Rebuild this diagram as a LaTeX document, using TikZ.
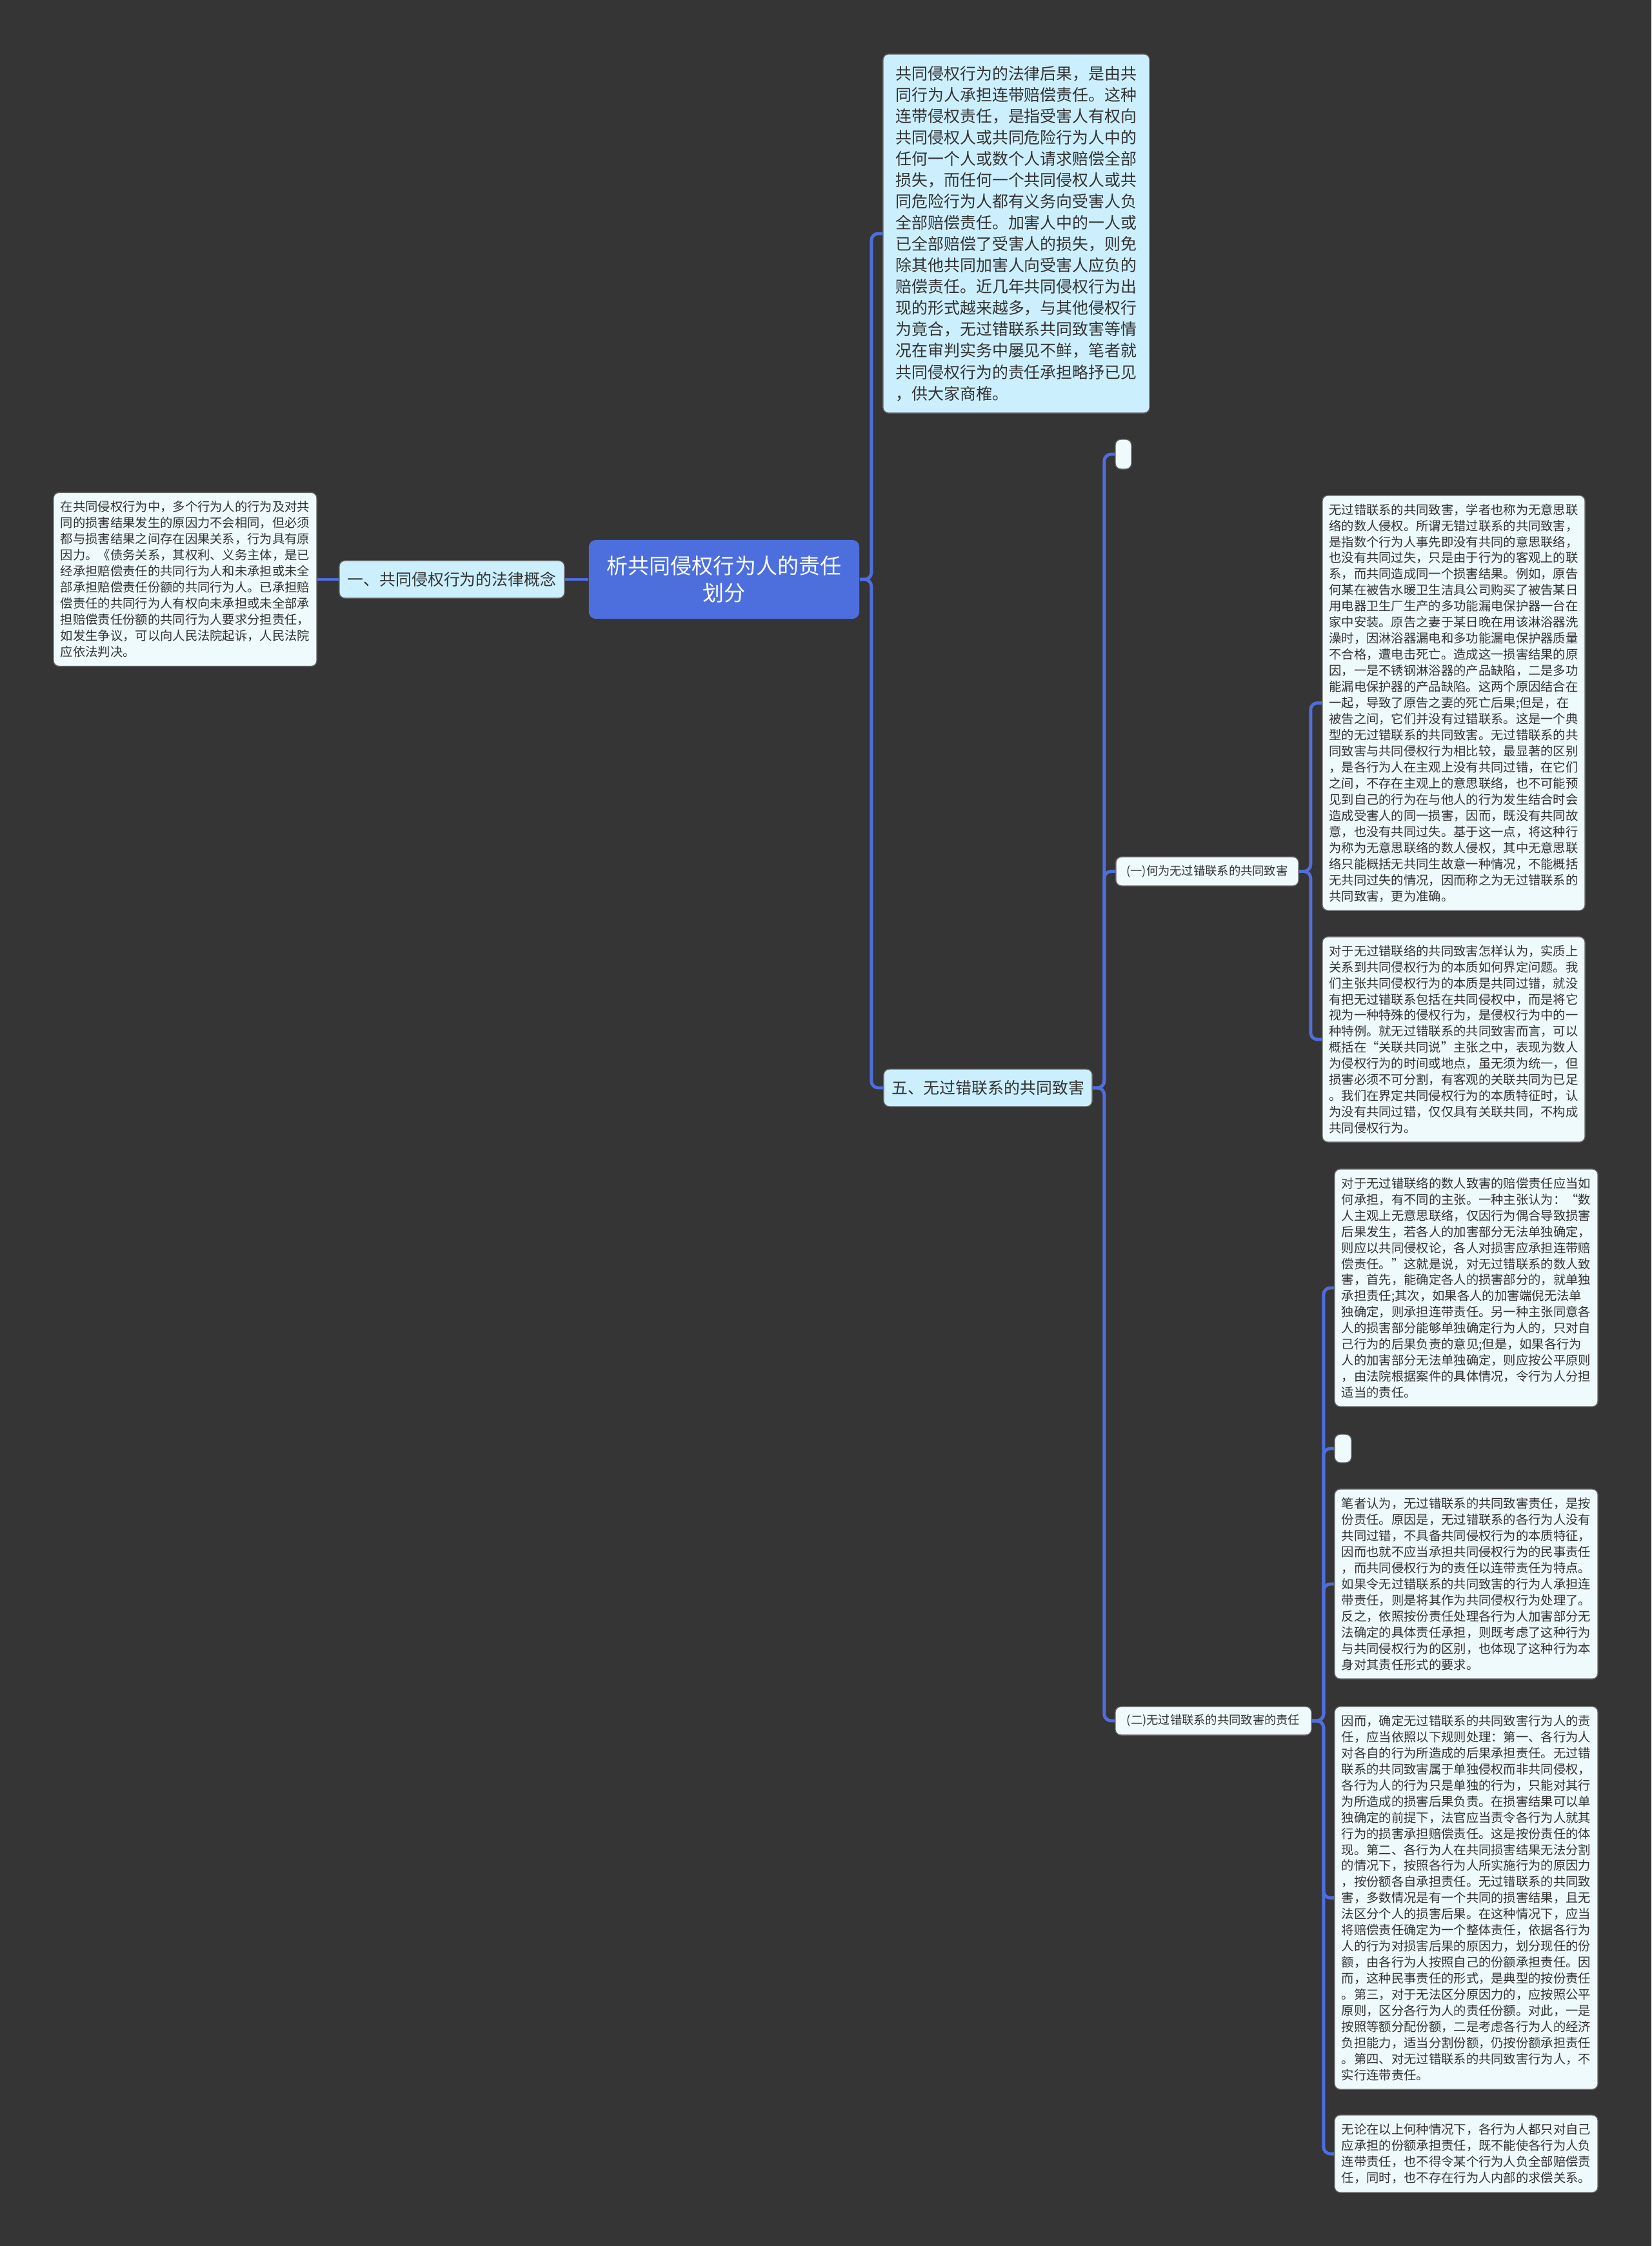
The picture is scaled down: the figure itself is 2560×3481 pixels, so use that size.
\documentclass[tikz,border=0pt]{standalone}
\usepackage{fontspec}
\newfontfamily\cjk{Noto Sans CJK SC}

\definecolor{bg}{HTML}{363535}
\definecolor{rootblue}{HTML}{4D6FDE}
\definecolor{topicfill}{HTML}{CCEFFD}
\definecolor{leaffill}{HTML}{EFFAFD}
\definecolor{linkblue}{HTML}{506DDC}
\definecolor{ink}{HTML}{333333}

\tikzset{
  box/.style={draw=black!60, line width=0.4pt, rounded corners=2.5pt, inner sep=0pt, align=left, text=ink},
  rootbox/.style={box, draw=none, fill=rootblue, text=white, align=center, rounded corners=3pt,
    font=\cjk\fontsize{9.4pt}{12pt}\selectfont},
  topicbox/.style={box, fill=topicfill, font=\cjk\fontsize{7.08pt}{9.4pt}\selectfont},
  labelbox/.style={box, fill=leaffill, font=\cjk\fontsize{5.2pt}{7pt}\selectfont},
  leafbox/.style={box, fill=leaffill, font=\cjk\fontsize{5.49pt}{7.1pt}\selectfont},
  link/.style={draw=linkblue, line width=1.4pt, rounded corners=3pt},
}

\begin{document}
\begin{tikzpicture}[x=0.01cm, y=-0.01cm]
\fill[bg] (0,0) rectangle (2560,3481);
\useasboundingbox (0,0) rectangle (2560,3481);

% centre
\node[rootbox, minimum width=4.19cm, minimum height=1.22cm] (root) at (1122.5,898) {析共同侵权行为人的责任\\划分};

% left branch
\node[topicbox, minimum width=3.49cm, minimum height=0.58cm] (concept) at (700.5,898) {一、共同侵权行为的法律概念};
\node[leafbox, minimum width=4.08cm, minimum height=2.69cm] (conceptnote) at (287,898) {在共同侵权行为中，多个行为人的行为及对共\\
同的损害结果发生的原因力不会相同，但必须\\
都与损害结果之间存在因果关系，行为具有原\\
因力。《债务关系，其权利、义务主体，是已\\
经承担赔偿责任的共同行为人和未承担或未全\\
部承担赔偿责任份额的共同行为人。已承担赔\\
偿责任的共同行为人有权向未承担或未全部承\\
担赔偿责任份额的共同行为人要求分担责任，\\
如发生争议，可以向人民法院起诉，人民法院\\
应依法判决。};

% right branch
\node[topicbox, minimum width=4.13cm, minimum height=5.56cm] (effect) at (1575.5,362) {共同侵权行为的法律后果，是由共\\
同行为人承担连带赔偿责任。这种\\
连带侵权责任，是指受害人有权向\\
共同侵权人或共同危险行为人中的\\
任何一个人或数个人请求赔偿全部\\
损失，而任何一个共同侵权人或共\\
同危险行为人都有义务向受害人负\\
全部赔偿责任。加害人中的一人或\\
已全部赔偿了受害人的损失，则免\\
除其他共同加害人向受害人应负的\\
赔偿责任。近几年共同侵权行为出\\
现的形式越来越多，与其他侵权行\\
为竟合，无过错联系共同致害等情\\
况在审判实务中屡见不鲜，笔者就\\
共同侵权行为的责任承担略抒已见\\
，供大家商榷。};
\node[topicbox, minimum width=3.23cm, minimum height=0.58cm] (nofault) at (1531.5,1686) {五、无过错联系的共同致害};

\node[labelbox, minimum width=0.25cm, minimum height=0.46cm] (blankA) at (1741.5,704) {};
\node[labelbox, minimum width=2.83cm, minimum height=0.45cm] (whatis) at (1871.5,1350.5) {(一)何为无过错联系的共同致害};
\node[labelbox, minimum width=3.04cm, minimum height=0.44cm] (liability) at (1881,2667) {(二)无过错联系的共同致害的责任};

\node[leafbox, minimum width=4.07cm, minimum height=6.43cm] (whatisA) at (2253.5,1089.5) {无过错联系的共同致害，学者也称为无意思联\\
络的数人侵权。所谓无错过联系的共同致害，\\
是指数个行为人事先即没有共同的意思联络，\\
也没有共同过失，只是由于行为的客观上的联\\
系，而共同造成同一个损害结果。例如，原告\\
何某在被告水暖卫生洁具公司购买了被告某日\\
用电器卫生厂生产的多功能漏电保护器一台在\\
家中安装。原告之妻于某日晚在用该淋浴器洗\\
澡时，因淋浴器漏电和多功能漏电保护器质量\\
不合格，遭电击死亡。造成这一损害结果的原\\
因，一是不锈钢淋浴器的产品缺陷，二是多功\\
能漏电保护器的产品缺陷。这两个原因结合在\\
一起，导致了原告之妻的死亡后果;但是，在\\
被告之间，它们并没有过错联系。这是一个典\\
型的无过错联系的共同致害。无过错联系的共\\
同致害与共同侵权行为相比较，最显著的区别\\
，是各行为人在主观上没有共同过错，在它们\\
之间，不存在主观上的意思联络，也不可能预\\
见到自己的行为在与他人的行为发生结合时会\\
造成受害人的同一损害，因而，既没有共同故\\
意，也没有共同过失。基于这一点，将这种行\\
为称为无意思联络的数人侵权，其中无意思联\\
络只能概括无共同生故意一种情况，不能概括\\
无共同过失的情况，因而称之为无过错联系的\\
共同致害，更为准确。};
\node[leafbox, minimum width=4.07cm, minimum height=3.18cm] (whatisB) at (2253.5,1611) {对于无过错联络的共同致害怎样认为，实质上\\
关系到共同侵权行为的本质如何界定问题。我\\
们主张共同侵权行为的本质是共同过错，就没\\
有把无过错联系包括在共同侵权中，而是将它\\
视为一种特殊的侵权行为，是侵权行为中的一\\
种特例。就无过错联系的共同致害而言，可以\\
概括在“关联共同说”主张之中，表现为数人\\
为侵权行为的时间或地点，虽无须为统一，但\\
损害必须不可分割，有客观的关联共同为已足\\
。我们在界定共同侵权行为的本质特征时，认\\
为没有共同过错，仅仅具有关联共同，不构成\\
共同侵权行为。};

\node[leafbox, minimum width=4.08cm, minimum height=3.68cm] (liabA) at (2273,1996) {对于无过错联络的数人致害的赔偿责任应当如\\
何承担，有不同的主张。一种主张认为：“数\\
人主观上无意思联络，仅因行为偶合导致损害\\
后果发生，若各人的加害部分无法单独确定，\\
则应以共同侵权论，各人对损害应承担连带赔\\
偿责任。”这就是说，对无过错联系的数人致\\
害，首先，能确定各人的损害部分的，就单独\\
承担责任;其次，如果各人的加害端倪无法单\\
独确定，则承担连带责任。另一种主张同意各\\
人的损害部分能够单独确定行为人的，只对自\\
己行为的后果负责的意见;但是，如果各行为\\
人的加害部分无法单独确定，则应按公平原则\\
，由法院根据案件的具体情况，令行为人分担\\
适当的责任。};
\node[labelbox, minimum width=0.26cm, minimum height=0.44cm] (blankB) at (2082,2245) {};
\node[leafbox, minimum width=4.08cm, minimum height=2.94cm] (liabB) at (2273,2455) {笔者认为，无过错联系的共同致害责任，是按\\
份责任。原因是，无过错联系的各行为人没有\\
共同过错，不具备共同侵权行为的本质特征，\\
因而也就不应当承担共同侵权行为的民事责任\\
，而共同侵权行为的责任以连带责任为特点。\\
如果令无过错联系的共同致害的行为人承担连\\
带责任，则是将其作为共同侵权行为处理了。\\
反之，依照按份责任处理各行为人加害部分无\\
法确定的具体责任承担，则既考虑了这种行为\\
与共同侵权行为的区别，也体现了这种行为本\\
身对其责任形式的要求。};
\node[leafbox, minimum width=4.08cm, minimum height=5.93cm] (liabC) at (2273,2941.5) {因而，确定无过错联系的共同致害行为人的责\\
任，应当依照以下规则处理：第一、各行为人\\
对各自的行为所造成的后果承担责任。无过错\\
联系的共同致害属于单独侵权而非共同侵权，\\
各行为人的行为只是单独的行为，只能对其行\\
为所造成的损害后果负责。在损害结果可以单\\
独确定的前提下，法官应当责令各行为人就其\\
行为的损害承担赔偿责任。这是按份责任的体\\
现。第二、各行为人在共同损害结果无法分割\\
的情况下，按照各行为人所实施行为的原因力\\
，按份额各自承担责任。无过错联系的共同致\\
害，多数情况是有一个共同的损害结果，且无\\
法区分个人的损害后果。在这种情况下，应当\\
将赔偿责任确定为一个整体责任，依据各行为\\
人的行为对损害后果的原因力，划分现任的份\\
额，由各行为人按照自己的份额承担责任。因\\
而，这种民事责任的形式，是典型的按份责任\\
。第三，对于无法区分原因力的，应按照公平\\
原则，区分各行为人的责任份额。对此，一是\\
按照等额分配份额，二是考虑各行为人的经济\\
负担能力，适当分割份额，仍按份额承担责任\\
。第四、对无过错联系的共同致害行为人，不\\
实行连带责任。};
\node[leafbox, minimum width=4.08cm, minimum height=1.20cm] (liabD) at (2273,3338) {无论在以上何种情况下，各行为人都只对自己\\
应承担的份额承担责任，既不能使各行为人负\\
连带责任，也不得令某个行为人负全部赔偿责\\
任，同时，也不存在行为人内部的求偿关系。};

% connectors
\draw[link] (root.west) -- (concept.east);
\draw[link] (concept.west) -- (conceptnote.east);
\draw[link] (root.east) -- ++(18,0) |- (effect.west);
\draw[link] (root.east) -- ++(18,0) |- (nofault.west);
\draw[link] (nofault.east) -- ++(18,0) |- (blankA.west);
\draw[link] (nofault.east) -- ++(18,0) |- (whatis.west);
\draw[link] (nofault.east) -- ++(18,0) |- (liability.west);
\draw[link] (whatis.east) -- ++(18,0) |- (whatisA.west);
\draw[link] (whatis.east) -- ++(18,0) |- (whatisB.west);
\draw[link] (liability.east) -- ++(18,0) |- (liabA.west);
\draw[link] (liability.east) -- ++(18,0) |- (blankB.west);
\draw[link] (liability.east) -- ++(18,0) |- (liabB.west);
\draw[link] (liability.east) -- ++(18,0) |- (liabC.west);
\draw[link] (liability.east) -- ++(18,0) |- (liabD.west);
\end{tikzpicture}
\end{document}
